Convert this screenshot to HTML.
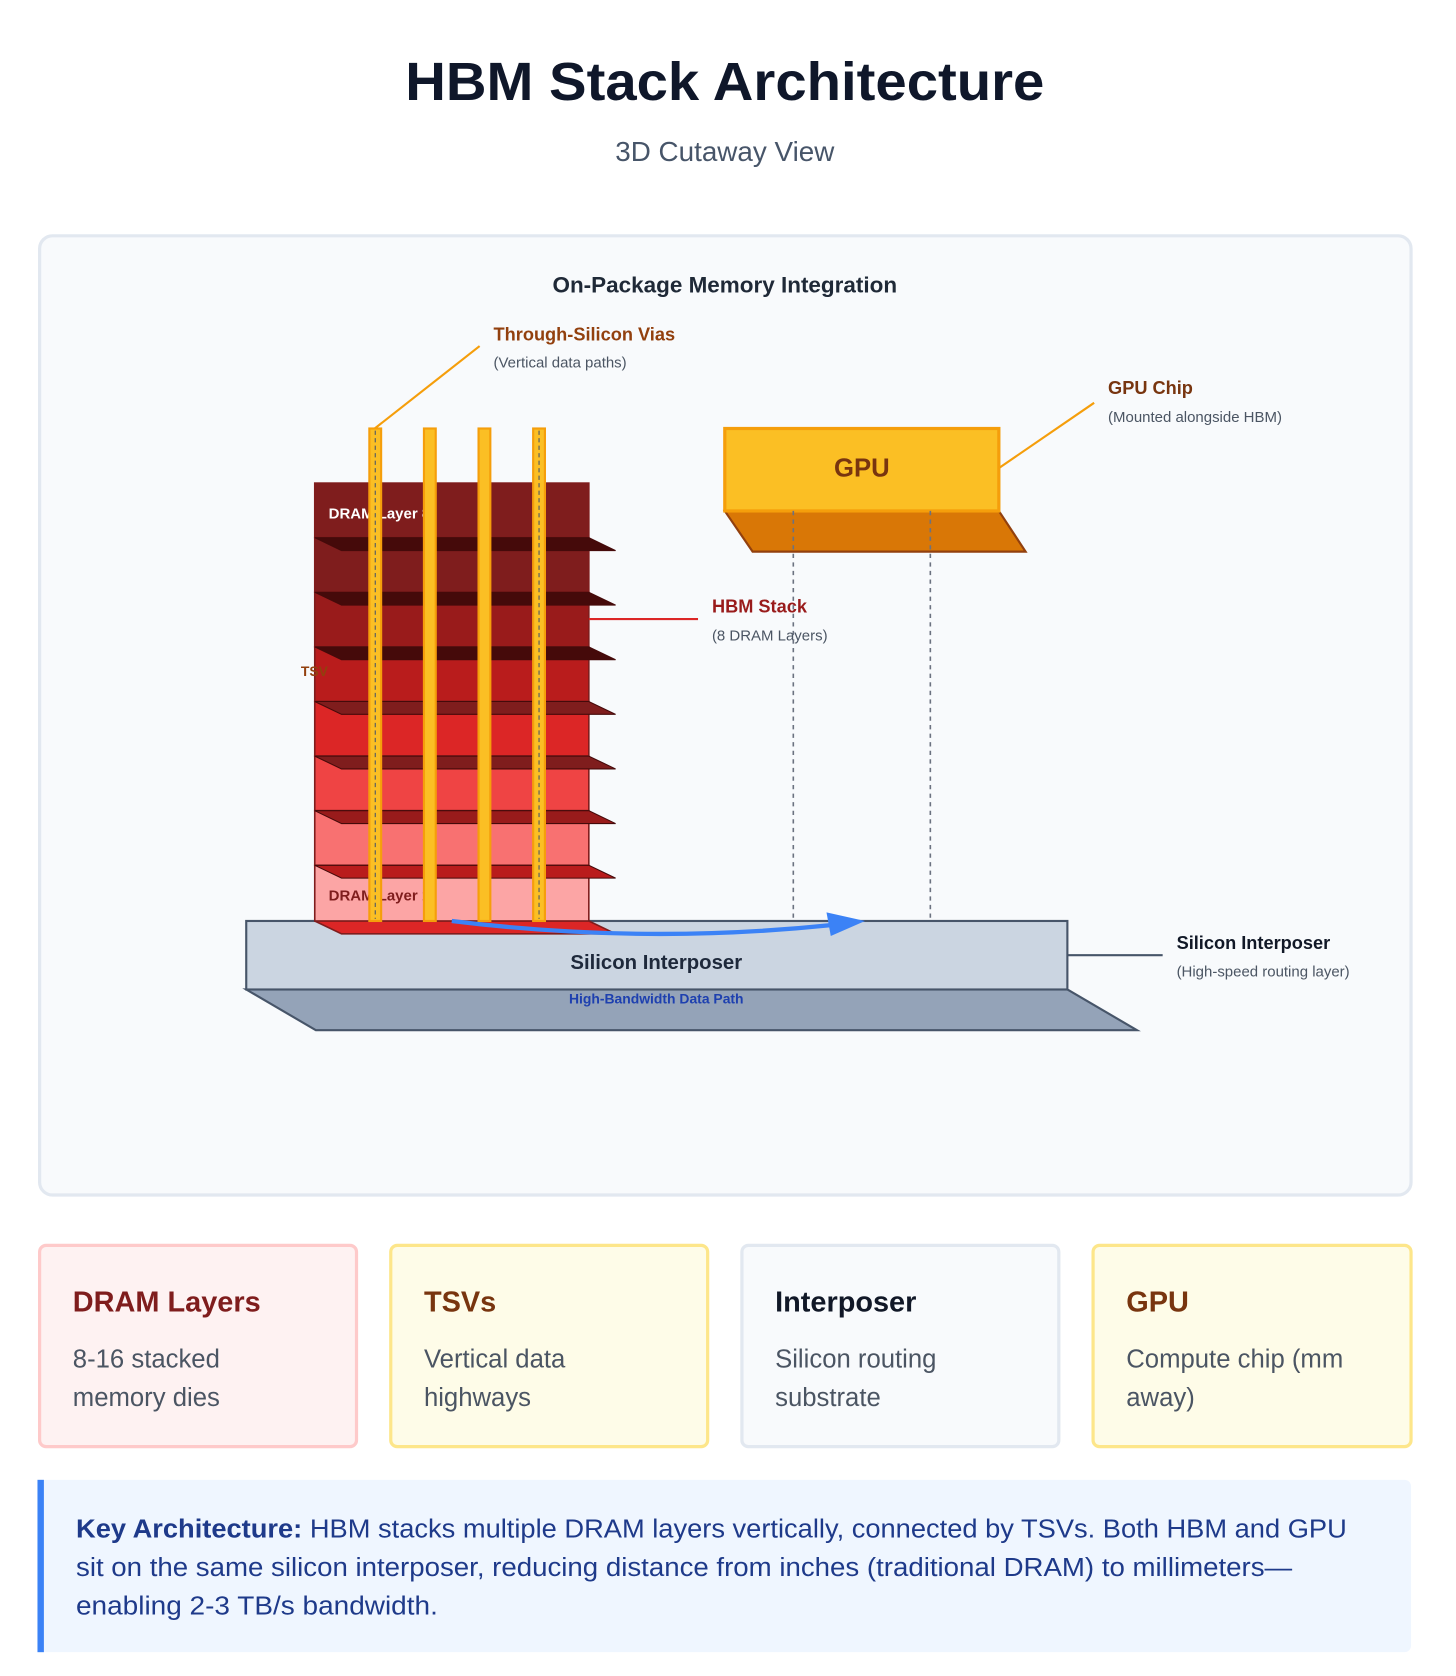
<!DOCTYPE html>
<html><head><meta charset="utf-8"><style>html,body{margin:0;padding:0;background:#fff}svg{display:block}text{font-family:"Liberation Sans",sans-serif}</style></head>
<body>
<svg width="1456" height="1676" viewBox="0 0 1360 1565" xmlns="http://www.w3.org/2000/svg">
<rect width="1360" height="1565" fill="#fff"/>
<text x="677" y="93" text-anchor="middle" font-size="50" font-weight="bold" fill="#0f172a" textLength="597" lengthAdjust="spacingAndGlyphs">HBM Stack Architecture</text>
<text x="677" y="150" text-anchor="middle" font-size="26" fill="#475569">3D Cutaway View</text>
<rect x="37" y="220" width="1281" height="896" rx="12" fill="#f8fafc" stroke="#e2e8f0" stroke-width="3"/>
<text x="677" y="273" text-anchor="middle" font-size="21" font-weight="bold" fill="#1f2937">On-Package Memory Integration</text>

<!-- interposer -->
<polygon points="230,924 997,924 1062,962 295,962" fill="#94a3b8" stroke="#475569" stroke-width="2"/>
<rect x="230" y="860" width="767" height="64" fill="#cbd5e1" stroke="#475569" stroke-width="2"/>
<text x="613" y="905" text-anchor="middle" font-size="19" font-weight="bold" fill="#1e293b">Silicon Interposer</text>
<text x="613" y="937" text-anchor="middle" font-size="13" font-weight="bold" fill="#1e40af">High-Bandwidth Data Path</text>
<line x1="997" y1="892" x2="1086" y2="892" stroke="#475569" stroke-width="2"/>
<text x="1099" y="886" font-size="17" font-weight="bold" fill="#111827">Silicon Interposer</text>
<text x="1099" y="912" font-size="14" fill="#4b5563">(High-speed routing layer)</text>

<!-- stack -->
<polygon points="294,860 550,860 575,872 319,872" fill="#dc2626" stroke="#7f1d1d" stroke-width="1.5"/>
<g stroke="#7f1d1d" stroke-width="1.5">
<rect x="294" y="451" width="256" height="51" fill="#7f1d1d"/>
<rect x="294" y="502" width="256" height="51" fill="#7f1d1d"/>
<rect x="294" y="553" width="256" height="51" fill="#991b1b"/>
<rect x="294" y="604" width="256" height="51" fill="#b91c1c"/>
<rect x="294" y="655" width="256" height="51" fill="#dc2626"/>
<rect x="294" y="706" width="256" height="51" fill="#ef4444"/>
<rect x="294" y="757" width="256" height="51" fill="#f87171"/>
<rect x="294" y="808" width="256" height="52" fill="#fca5a5"/>
</g>
<g stroke="#450a0a" stroke-width="1">
<polygon points="294,502 550,502 575,514 319,514" fill="#450a0a"/>
<polygon points="294,553 550,553 575,565 319,565" fill="#450a0a"/>
<polygon points="294,604 550,604 575,616 319,616" fill="#450a0a"/>
<polygon points="294,655 550,655 575,667 319,667" fill="#7f1d1d"/>
<polygon points="294,706 550,706 575,718 319,718" fill="#7f1d1d"/>
<polygon points="294,757 550,757 575,769 319,769" fill="#991b1b"/>
<polygon points="294,808 550,808 575,820 319,820" fill="#b91c1c"/>
</g>
<text x="307" y="484" font-size="14" font-weight="bold" fill="#fff">DRAM Layer 8</text>
<text x="307" y="841" font-size="14" font-weight="bold" fill="#7f1d1d">DRAM Layer 1</text>
<text x="281" y="631" font-size="13" font-weight="bold" fill="#92400e">TSV</text>

<!-- TSVs -->
<g fill="#fbbf24" stroke="#f59e0b" stroke-width="2">
<rect x="345" y="400" width="11" height="460"/>
<rect x="396" y="400" width="11" height="460"/>
<rect x="447" y="400" width="11" height="460"/>
<rect x="498" y="400" width="11" height="460"/>
</g>
<g stroke="#475569" stroke-width="1" stroke-dasharray="4,3">
<line x1="350.5" y1="402" x2="350.5" y2="858"/>
<line x1="503.5" y1="402" x2="503.5" y2="858"/>
</g>
<line x1="448" y1="323" x2="350" y2="400" stroke="#f59e0b" stroke-width="2"/>
<text x="461" y="318" font-size="17" font-weight="bold" fill="#92400e">Through-Silicon Vias</text>
<text x="461" y="343" font-size="14" fill="#4b5563">(Vertical data paths)</text>

<line x1="550" y1="578" x2="652" y2="578" stroke="#dc2626" stroke-width="2"/>
<text x="665" y="572" font-size="17" font-weight="bold" fill="#991b1b">HBM Stack</text>
<text x="665" y="598" font-size="14" fill="#4b5563">(8 DRAM Layers)</text>

<!-- GPU -->
<polygon points="677,477 933,477 958,515 703,515" fill="#d97706" stroke="#92400e" stroke-width="2"/>
<rect x="677" y="400" width="256" height="77" fill="#fbbf24" stroke="#f59e0b" stroke-width="3"/>
<text x="805" y="445" text-anchor="middle" font-size="24" font-weight="bold" fill="#78350f">GPU</text>
<g stroke="#6b7280" stroke-width="1.5" stroke-dasharray="4,4">
<line x1="741" y1="477" x2="741" y2="857"/>
<line x1="869" y1="477" x2="869" y2="857"/>
</g>
<line x1="933" y1="437" x2="1022" y2="376" stroke="#f59e0b" stroke-width="2"/>
<text x="1035" y="368" font-size="17" font-weight="bold" fill="#78350f">GPU Chip</text>
<text x="1035" y="394" font-size="14" fill="#4b5563">(Mounted alongside HBM)</text>

<!-- arrow -->
<path d="M422,860 Q600,882 775,864" fill="none" stroke="#3b82f6" stroke-width="4"/>
<polygon points="808,860 772,852 776,874" fill="#3b82f6"/>

<!-- cards -->
<rect x="37" y="1163" width="296" height="188" rx="6" fill="#fef2f2" stroke="#fecaca" stroke-width="3"/>
<rect x="365" y="1163" width="296" height="188" rx="6" fill="#fefce8" stroke="#fde68a" stroke-width="3"/>
<rect x="693" y="1163" width="296" height="188" rx="6" fill="#f8fafc" stroke="#e2e8f0" stroke-width="3"/>
<rect x="1021" y="1163" width="297" height="188" rx="6" fill="#fefce8" stroke="#fde68a" stroke-width="3"/>
<g font-size="27" font-weight="bold">
<text x="68" y="1225" fill="#7f1d1d">DRAM Layers</text>
<text x="396" y="1225" fill="#78350f">TSVs</text>
<text x="724" y="1225" fill="#111827">Interposer</text>
<text x="1052" y="1225" fill="#78350f">GPU</text>
</g>
<g font-size="24" fill="#4b5563">
<text x="68" y="1277">8-16 stacked</text><text x="68" y="1313">memory dies</text>
<text x="396" y="1277">Vertical data</text><text x="396" y="1313">highways</text>
<text x="724" y="1277">Silicon routing</text><text x="724" y="1313">substrate</text>
<text x="1052" y="1277">Compute chip (mm</text><text x="1052" y="1313">away)</text>
</g>

<rect x="37" y="1382" width="1281" height="161" rx="6" fill="#eff6ff"/>
<rect x="35" y="1382" width="6" height="161" fill="#3b82f6"/>
<g font-size="24" fill="#1e3a8a">
<text x="71" y="1436" textLength="1187" lengthAdjust="spacingAndGlyphs"><tspan font-weight="bold">Key Architecture:</tspan> HBM stacks multiple DRAM layers vertically, connected by TSVs. Both HBM and GPU</text>
<text x="71" y="1472" textLength="1136" lengthAdjust="spacingAndGlyphs">sit on the same silicon interposer, reducing distance from inches (traditional DRAM) to millimeters—</text>
<text x="71" y="1508" textLength="338" lengthAdjust="spacingAndGlyphs">enabling 2-3 TB/s bandwidth.</text>
</g>
</svg>
</body></html>
